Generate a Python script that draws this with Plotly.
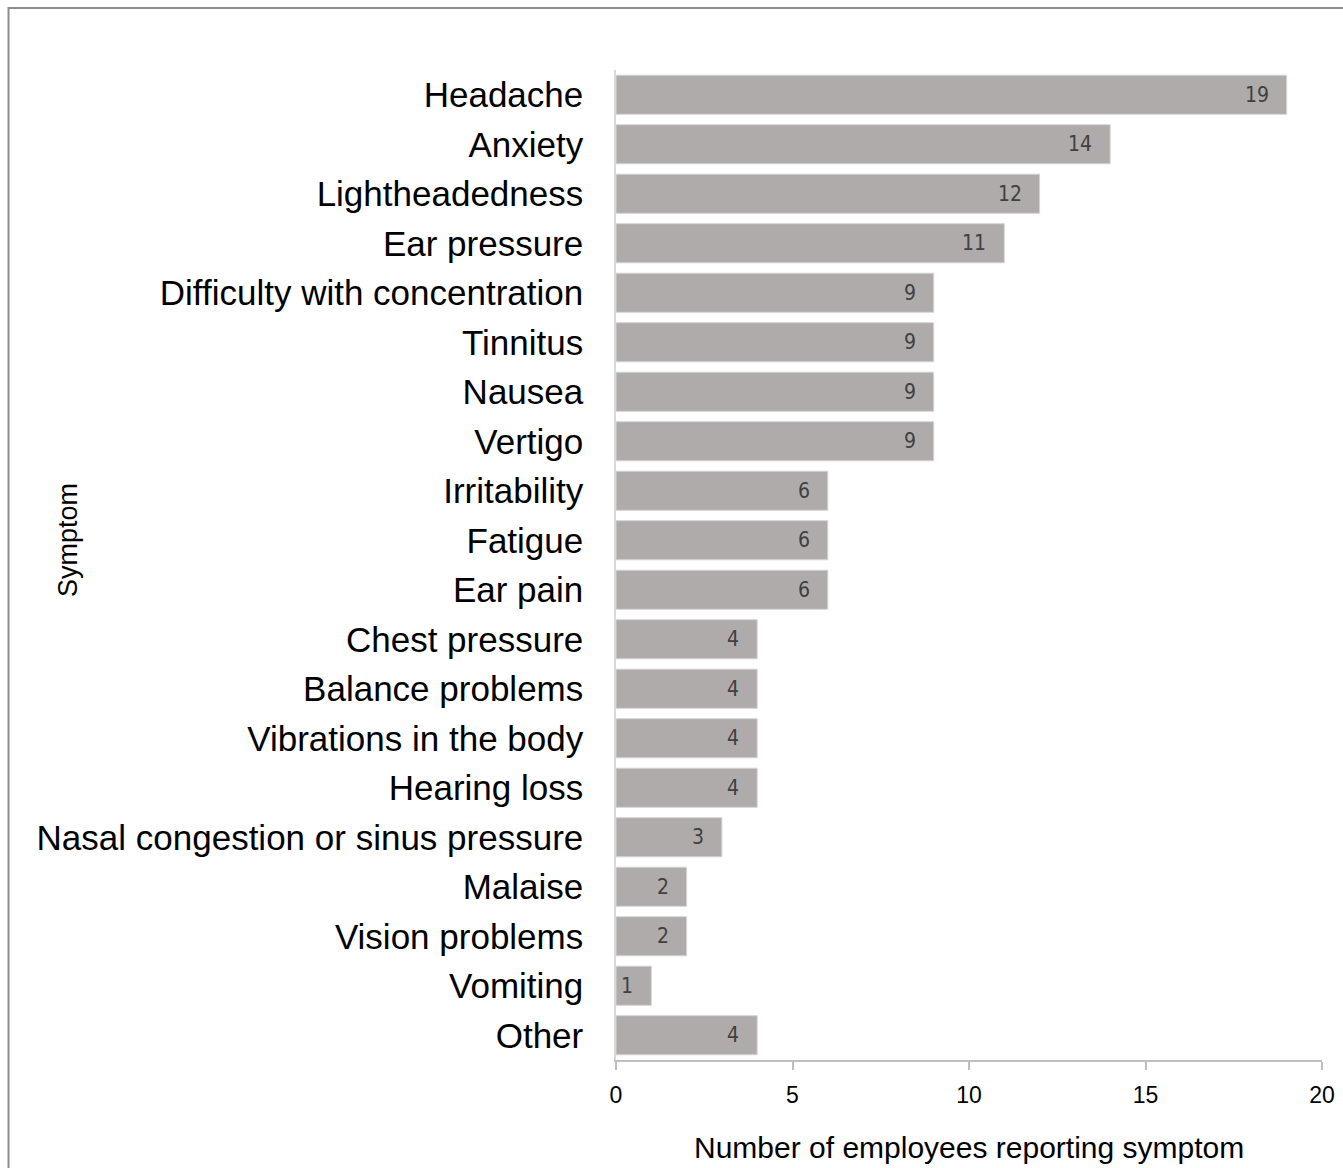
import plotly.graph_objects as go

symptoms = ["Headache", "Anxiety", "Lightheadedness", "Ear pressure",
            "Difficulty with concentration", "Tinnitus", "Nausea", "Vertigo",
            "Irritability", "Fatigue", "Ear pain", "Chest pressure",
            "Balance problems", "Vibrations in the body", "Hearing loss",
            "Nasal congestion or sinus pressure", "Malaise", "Vision problems",
            "Vomiting", "Other"]
counts = [19, 14, 12, 11, 9, 9, 9, 9, 6, 6, 6, 4, 4, 4, 4, 3, 2, 2, 1, 4]
x_ticks = [0, 5, 10, 15, 20]
x_title = "Number of employees reporting symptom"
y_title = "Symptom"

W, H = 1343, 1168
L, R, T, B = 616, 21, 70, 108
pw, ph = W - L - R, H - T - B

def px_x(p):
    return (p - L) / pw

def px_y(p):
    return (H - B - p) / ph

fig = go.Figure(go.Bar(
    x=counts, y=symptoms, orientation="h",
    marker=dict(color="#AFABAB", line=dict(color="#D6D4D4", width=1)),
    width=0.79, hoverinfo="x+y",
))

annotations = []
for s, c in zip(symptoms, counts):
    annotations.append(dict(
        x=c, y=s, xref="x", yref="y", text=str(c), showarrow=False,
        xanchor="right", xshift=-16,
        font=dict(family="DejaVu Sans Condensed, Liberation Sans Narrow, Arial Narrow, sans-serif",
                  size=21, color="#404040"),
    ))
annotations.append(dict(
    x=px_x(969), y=px_y(1147), xref="paper", yref="paper", text=x_title,
    showarrow=False, xanchor="center", yanchor="middle",
    font=dict(family="Liberation Sans, Arial", size=30, color="#000000"),
))
annotations.append(dict(
    x=px_x(68), y=px_y(540), xref="paper", yref="paper", text=y_title,
    showarrow=False, xanchor="center", yanchor="middle", textangle=-90,
    font=dict(family="Liberation Sans, Arial", size=27, color="#000000"),
))

fig.update_layout(
    width=W, height=H,
    margin=dict(l=L, r=R, t=T, b=B, pad=0, autoexpand=False),
    paper_bgcolor="white", plot_bgcolor="white",
    showlegend=False,
    annotations=annotations,
    shapes=[dict(type="rect", xref="paper", yref="paper",
                 x0=px_x(8.5), x1=px_x(1400), y0=px_y(8), y1=px_y(1250),
                 line=dict(color="#8C8C8C", width=2), layer="below")],
    xaxis=dict(
        range=[0, 20], tickvals=x_ticks, showgrid=False, zeroline=False,
        showline=True, linecolor="#BFBFBF", linewidth=1.5, automargin=False,
        ticks="outside", ticklen=8, tickcolor="#BFBFBF", tickwidth=1.5,
        ticklabelstandoff=6,
        tickfont=dict(family="Liberation Sans, Arial", size=23, color="#000000"),
    ),
    yaxis=dict(
        categoryorder="array", categoryarray=symptoms, autorange=False,
        range=[len(symptoms) - 0.5, -0.5], automargin=False,
        showgrid=False, zeroline=False, showline=True, linecolor="#D9D9D9",
        linewidth=1.5, ticks="", ticklabelstandoff=24,
        tickfont=dict(family="Liberation Sans, Arial", size=35, color="#000000"),
    ),
)

fig.write_html("out.html", config={"displayModeBar": False},
               post_script="document.body.style.margin='0';document.body.style.overflow='hidden';")
